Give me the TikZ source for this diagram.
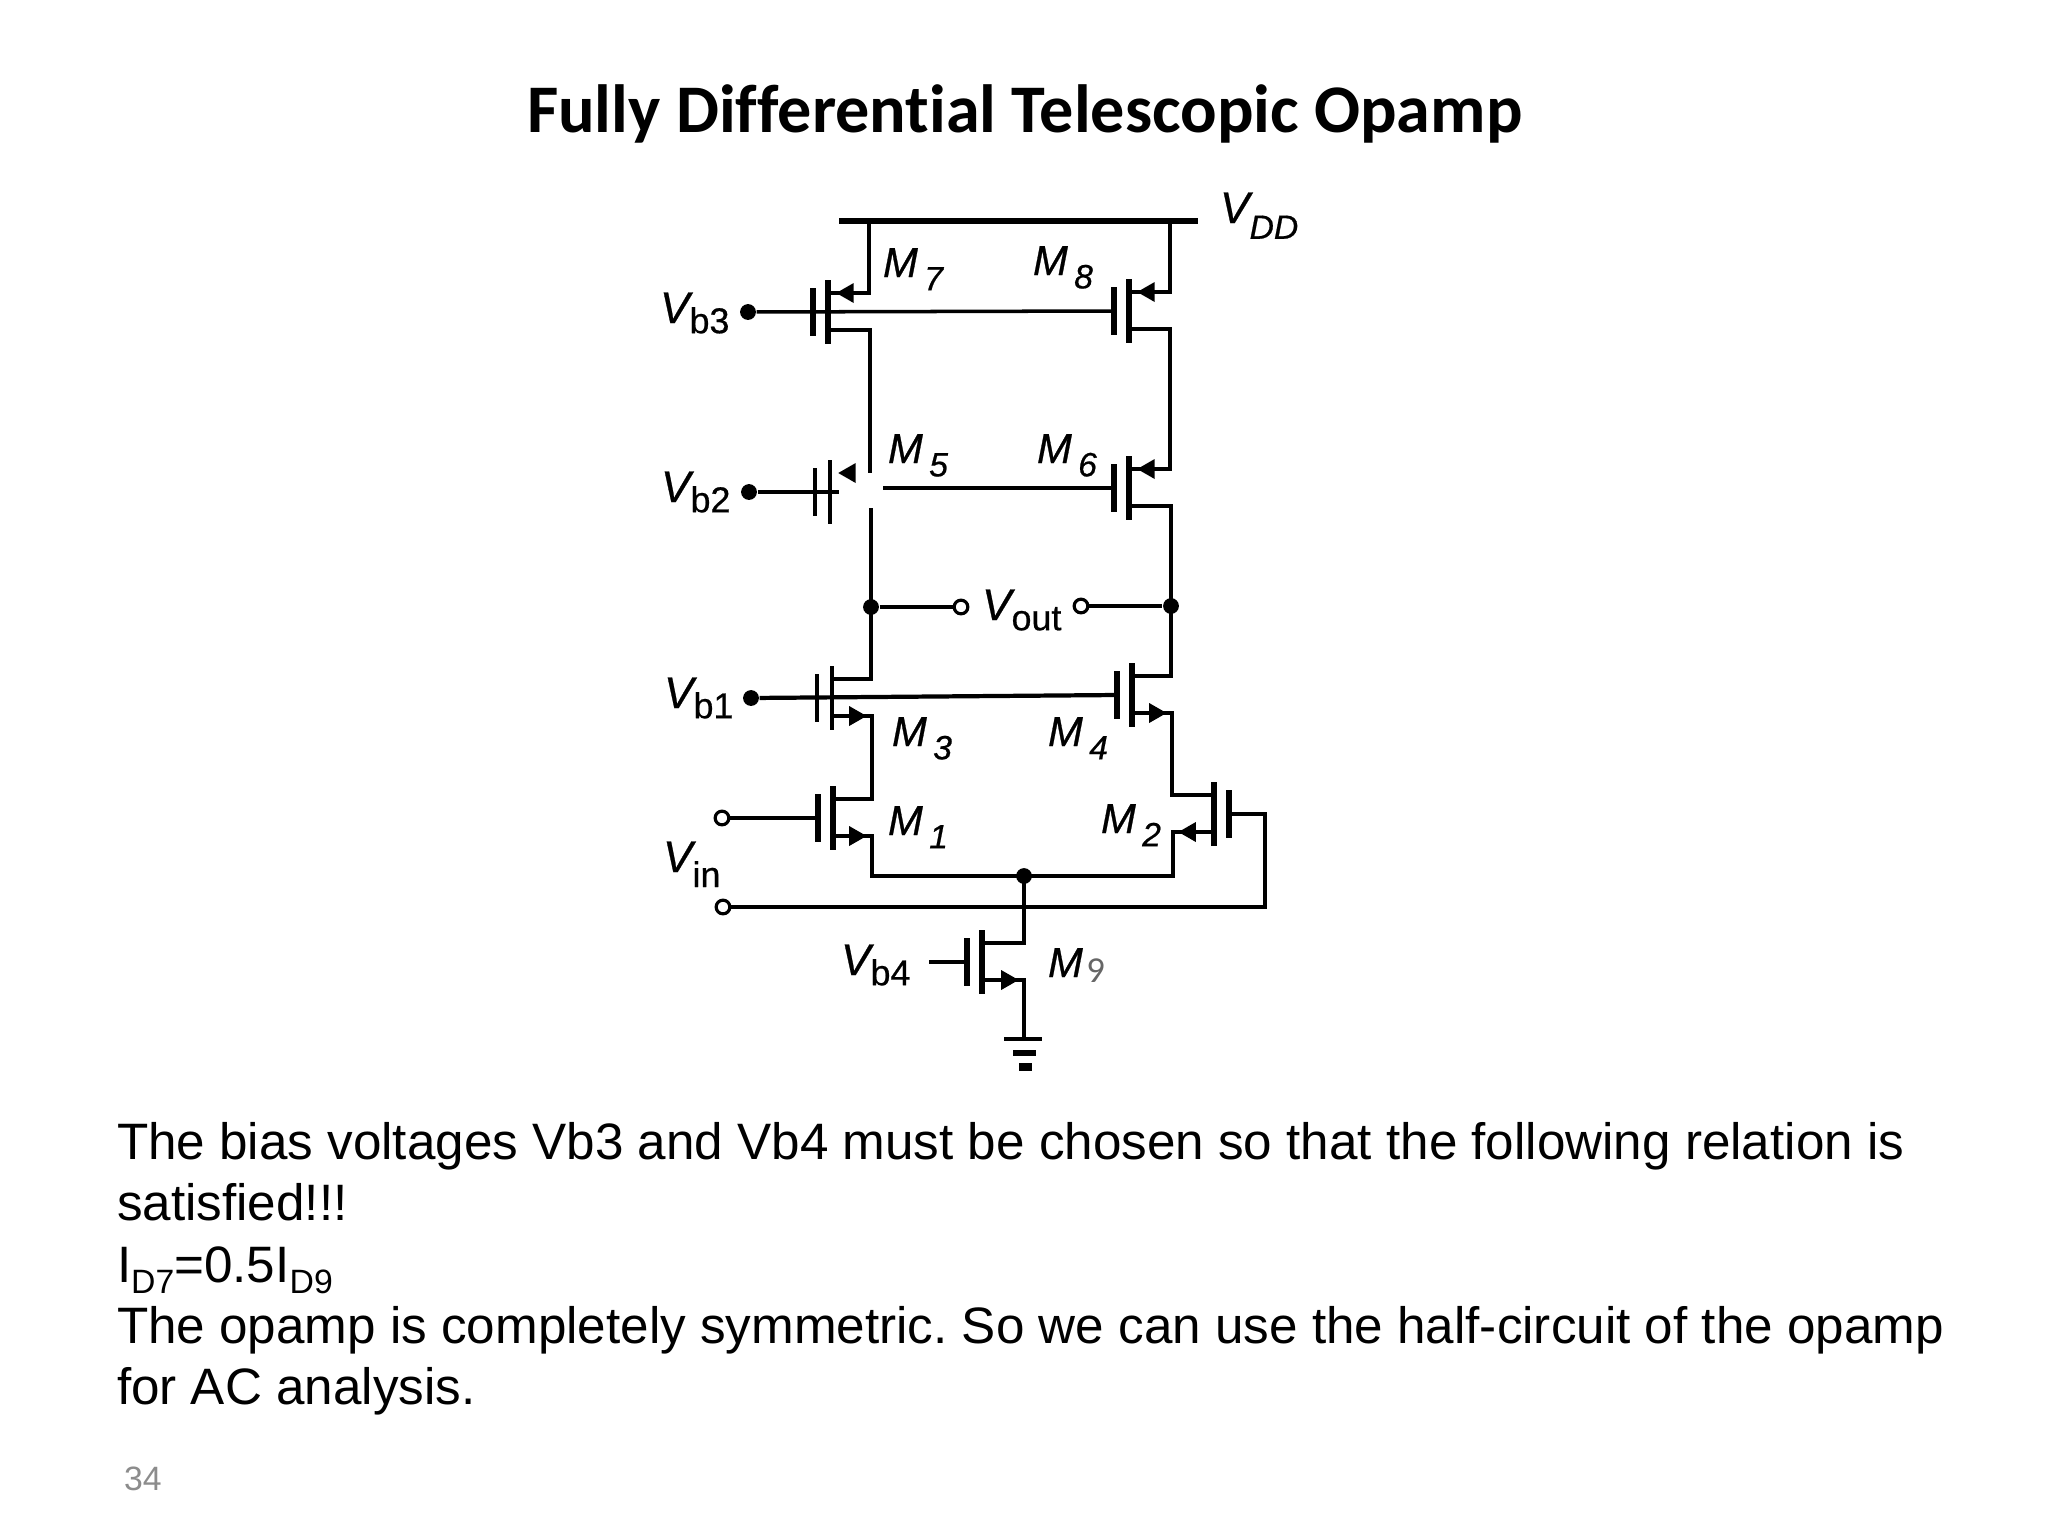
\documentclass[tikz,border=0pt]{standalone}
\usepackage{fontspec}
\setmainfont{Liberation Sans}
\newfontfamily\titlefont[Ligatures=NoCommon]{Carlito}
\newfontfamily\circfont[FakeBold=0.6]{Liberation Sans}
\usetikzlibrary{arrows.meta, positioning, calc}

\tikzset{
  wire/.style={line width=1pt},
  vddbar/.style={line width=1.9pt},
  fetbar/.style={line width=1.8pt},
  fetthin/.style={line width=1pt},
  fetarrow/.style={wire, -{Triangle[length=5pt,width=5.4pt]}, shorten >=#1},
  fetarrow/.default=1.5pt,
  dot/.style={circle, fill=black, inner sep=0pt, minimum size=4.5pt},
  hollow/.style={circle, draw, fill=white, line width=0.9pt, inner sep=0pt, minimum size=3.9pt},
  lbl/.style={anchor=base west, inner sep=0pt, outer sep=0pt},
  body/.style={lbl, font=\fontsize{14.56pt}{17pt}\selectfont}
}

% channel, gate plate and the three terminals of one transistor
\newcommand{\mosfet}[5][fetbar]{%
  \coordinate (#2-t) at (#3,#4-19);
  \coordinate (#2-b) at (#3,#4+18);
  \coordinate (#2-g) at (#3+#5*15,#4);
  \draw[#1] (#3,#4-32) -- (#3,#4+32);
  \draw[#1] (#3+#5*15,#4-24) -- (#3+#5*15,#4+24);
}
\newcommand{\mname}[1]{{\circfont\fontsize{11.9pt}{14pt}\selectfont\itshape M\kern1.8pt\raisebox{-3.8pt}{\fontsize{9.6pt}{11pt}\selectfont #1}}}
\newcommand{\vname}[2]{{\circfont\fontsize{12.6pt}{15pt}\selectfont\itshape V\upshape\raisebox{-2.9pt}{\fontsize{10.2pt}{12pt}\selectfont #2}}}

\begin{document}
\frenchspacing
\begin{tikzpicture}[x=0.01cm,y=-0.01cm]
\useasboundingbox (0,0) rectangle (2048,1536);

% Title
\node[lbl, font=\titlefont\bfseries\fontsize{19.38pt}{23pt}\selectfont] (title) at (527,132) {Fully Differential Telescopic Opamp};

% Supply rail
\coordinate (vddl) at (839,221);
\coordinate (vddr) at (1198,221);
\coordinate (vdd7) at (869,221);
\coordinate (vdd8) at (1170,221);
\draw[vddbar] (vddl) -- (vddr);

% Transistors
\mosfet{m7}{828}{312}{-1}
\mosfet{m8}{1129}{311}{-1}
\mosfet[fetthin]{m5}{830}{492}{-1}
\mosfet{m6}{1129}{488}{-1}
\mosfet[fetthin]{m3}{832}{698}{-1}
\mosfet{m4}{1132}{695}{-1}
\mosfet{m1}{833}{818}{-1}
\mosfet{m2}{1214}{814}{1}
\mosfet{m9}{982}{962}{-1}

% Terminals and junctions
\node[dot] (vb3) at (748,312) {};
\node[dot] (vb2) at (749,492) {};
\node[dot] (vb1) at (751,698) {};
\node[dot] (outl) at (871,607) {};
\node[dot] (outr) at (1171,606) {};
\node[dot] (tail) at (1024,876) {};
\node[hollow] (voutl) at (961,607) {};
\node[hollow] (voutr) at (1081,606) {};
\node[hollow] (vin1) at (722,818) {};
\node[hollow] (vin2) at (723,907) {};

% Points the wires turn at
\coordinate (gapt) at (870,473);
\coordinate (gapb) at (871,508);
\coordinate (m5end) at (854,473);
\coordinate (m5stub) at (839,492);
\coordinate (m6stub) at (883,488);
\coordinate (railr) at (1170,400);
\coordinate (railm) at (872,760);
\coordinate (railn) at (1172,760);
\coordinate (taill) at (872,876);
\coordinate (tailr) at (1173,876);
\coordinate (vinr) at (1265,907);
\coordinate (vb4end) at (929,962);
\coordinate (gnd) at (1024,1039);

% Gate lines
\draw[wire] (vb3) -- (m8-g);
\draw[wire] (vb2) -- (m5stub);
\draw[wire] (m6stub) -- (m6-g);
\draw[line width=1.2pt] (vb1) -- (m4-g);
\draw[wire] (vin1) -- (m1-g);
\draw[wire] (vin2) -- (vinr) |- (m2-g);
\draw[wire] (vb4end) -- (m9-g);

% Left branch
\draw[wire] (vdd7) |- (m7-t);
\draw[wire] (m7-b) -| (gapt);
\draw[wire] (gapb) -- (outl.center) |- (m3-t);
\draw[wire] (m3-b) -| (railm) |- (m1-t);
\draw[wire] (m1-b) -| (taill) -- (tail.center);

% Right branch
\draw[wire] (vdd8) |- (m8-t);
\draw[wire] (m8-b) -| (railr) |- (m6-t);
\draw[wire] (m6-b) -| (outr.center) |- (m4-t);
\draw[wire] (m4-b) -| (railn) |- (m2-t);
\draw[wire] (m2-b) -| (tailr) -- (tail.center);

% Output taps
\draw[wire] (outl) -- (voutl);
\draw[wire] (voutr) -- (outr);

% Tail and ground
\draw[wire] (tail.center) |- (m9-t);
\draw[wire] (m9-b) -| (gnd);
\draw[line width=1.2pt] (1004,1039) -- (1042,1039);
\draw[line width=1.6pt] (1013,1053) -- (1036,1053);
\draw[line width=2.2pt] (1019,1067) -- (1032,1067);

% Source arrows
\draw[fetarrow=2.3pt] (vdd7 |- m7-t) -- (m7-t);
\draw[fetarrow=2.3pt] (vdd8 |- m8-t) -- (m8-t);
\draw[fetarrow=2.3pt] (m5end) -- (m5-t);
\draw[fetarrow=2.3pt] (railr |- m6-t) -- (m6-t);
\draw[fetarrow] (m3-b) -- (railm |- m3-b);
\draw[fetarrow] (m4-b) -- (railn |- m4-b);
\draw[fetarrow] (m1-b) -- (taill |- m1-b);
\draw[fetarrow] (m2-b) -- (tailr |- m2-b);
\draw[fetarrow] (m9-b) -- (gnd |- m9-b);

% Device names
\node[lbl] (m7name) at (883,277) {\mname{7}};
\node[lbl] (m8name) at (1033,275) {\mname{8}};
\node[lbl] (m5name) at (888,463) {\mname{5}};
\node[lbl] (m6name) at (1037,463) {\mname{6}};
\node[lbl] (m3name) at (892,746) {\mname{3}};
\node[lbl] (m4name) at (1048,746) {\mname{4}};
\node[lbl] (m1name) at (888,835) {\mname{1}};
\node[lbl] (m2name) at (1101,833) {\mname{2}};
\node[lbl] (m9name) at (1048,977) {{\circfont\fontsize{11.9pt}{14pt}\selectfont\itshape M}\kern1pt\raisebox{-1.7pt}{\titlefont\fontsize{10.4pt}{12pt}\selectfont\color{black!60} 9}};

% Voltage names
\node[lbl] (vddname) at (1220,223) {{\circfont\fontsize{12.6pt}{15pt}\selectfont\itshape V}\raisebox{-4.5pt}{\circfont\fontsize{9.6pt}{11pt}\selectfont\itshape DD}};
\node[lbl] (vb3name) at (660,323) {\vname{V}{b3}};
\node[lbl] (vb2name) at (661,502) {\vname{V}{b2}};
\node[lbl] (vb1name) at (664,708) {\vname{V}{b1}};
\node[lbl] (vb4name) at (841,975) {\vname{V}{b4}};
\node[lbl] (vinname) at (663,872) {{\circfont\fontsize{12.6pt}{15pt}\selectfont\itshape V}\raisebox{-4.3pt}{\circfont\fontsize{10.2pt}{12pt}\selectfont in}};
\node[lbl] (voutname) at (982,620) {\vname{V}{out}};

% Text under the circuit
\node[body] (line1) at (117,1159) {The bias voltages Vb3 and Vb4 must be chosen so that the following relation is};
\node[body] (line2) at (117,1220) {satisfied!!!};
\node[body] (line3) at (117,1282) {I\raisebox{-3.4pt}{\fontsize{9.6pt}{11pt}\selectfont D7}=0.5I\raisebox{-3.4pt}{\fontsize{9.6pt}{11pt}\selectfont D9}};
\node[body] (line4) at (117,1343) {The opamp is completely symmetric. So we can use the half-circuit of the opamp};
\node[body] (line5) at (117,1404) {for AC analysis.};

% Page number
\node[lbl, text=black!45, font=\fontsize{9.6pt}{11pt}\selectfont] (page) at (124,1490) {34};
\end{tikzpicture}
\end{document}
